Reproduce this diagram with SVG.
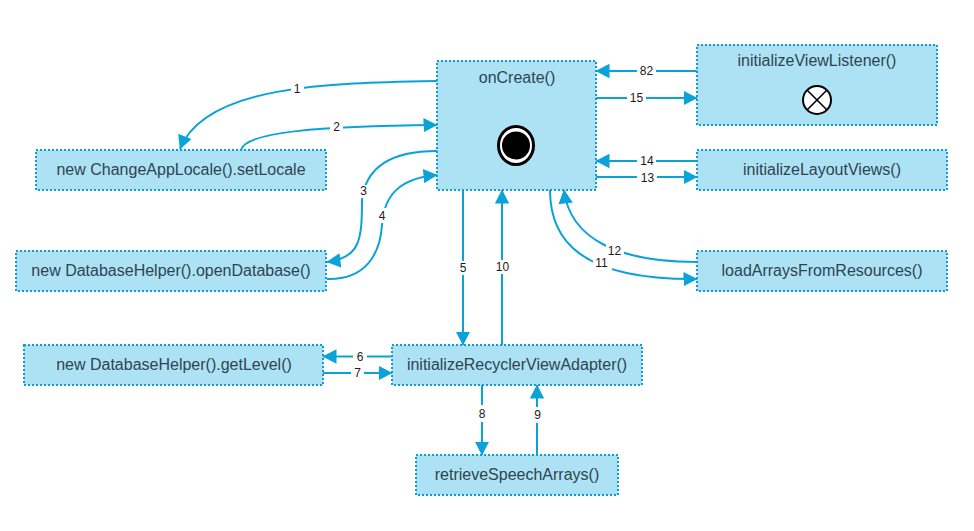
<svg xmlns="http://www.w3.org/2000/svg" width="974" height="531" viewBox="0 0 974 531">
<style>
.n{fill:#ade2f4;stroke:#0a9fd6;stroke-width:2;stroke-dasharray:2 2}
.t{font:16px "Liberation Sans",Arial,sans-serif;fill:#2f4450;text-anchor:middle}
.c{fill:none;stroke:#0aa3d9;stroke-width:2}
.a{marker-end:url(#arr)}
.lb{fill:#fff}
.l{font:12px "Liberation Sans",Arial,sans-serif;fill:#1a1a1a;text-anchor:middle}
</style>
<defs><marker id="arr" markerUnits="userSpaceOnUse" markerWidth="16" markerHeight="16" refX="13.500" refY="8" orient="auto"><path d="M0 0.800L14 8L0 15.200Z" fill="#0aa3d9"/></marker></defs>
<rect width="974" height="531" fill="#fff"/>
<g id="connectors">
<path class="c a" d="M437 81C330 83 205 85 180 149"/>
<path class="c a" d="M241 150C245 132 320 126 437 125"/>
<path class="c a" d="M437 151C395 151 366 165 362 200C362 240 360 258 327 262"/>
<path class="c a" d="M327 279C365 280 380 255 382 225C384 195 400 178 437 175"/>
<path class="c a" d="M463 190V345"/>
<path class="c a" d="M502 345V190"/>
<path class="c a" d="M392 356.500H323"/>
<path class="c a" d="M323 373H392"/>
<path class="c a" d="M482 385V455"/>
<path class="c a" d="M537 455V385"/>
<path class="c a" d="M550 190C550 240 580 280 697 279"/>
<path class="c a" d="M697 262C620 262 570 240 564 190"/>
<path class="c a" d="M697 71H596"/>
<path class="c a" d="M596 98H697"/>
<path class="c a" d="M697 161H596"/>
<path class="c a" d="M596 177H697"/>
<g>
<rect class="lb" x="291" y="82" width="13" height="14"/><text class="l" x="297" y="93">1</text>
<rect class="lb" x="330" y="120" width="13" height="14"/><text class="l" x="336.500" y="131">2</text>
<rect class="lb" x="357" y="185" width="13" height="13"/><text class="l" x="363.500" y="195">3</text>
<rect class="lb" x="376" y="208" width="12" height="15"/><text class="l" x="382" y="220">4</text>
<rect class="lb" x="457" y="261" width="12" height="14"/><text class="l" x="463" y="272">5</text>
<rect class="lb" x="494" y="260" width="17" height="14"/><text class="l" x="502.500" y="271">10</text>
<rect class="lb" x="353" y="349" width="14" height="14"/><text class="l" x="360" y="360.500">6</text>
<rect class="lb" x="351" y="366" width="13" height="14"/><text class="l" x="357.500" y="377">7</text>
<rect class="lb" x="476" y="405" width="12" height="17"/><text class="l" x="482" y="418">8</text>
<rect class="lb" x="531" y="407" width="12" height="16"/><text class="l" x="537.500" y="419">9</text>
<rect class="lb" x="593" y="256" width="19" height="14"/><text class="l" x="601.500" y="267">11</text>
<rect class="lb" x="606" y="244" width="18" height="14"/><text class="l" x="614.500" y="255">12</text>
<rect class="lb" x="637" y="64" width="19" height="14"/><text class="l" x="646.500" y="75">82</text>
<rect class="lb" x="627" y="91" width="19" height="14"/><text class="l" x="636.500" y="102">15</text>
<rect class="lb" x="637" y="154" width="19" height="14"/><text class="l" x="647" y="165">14</text>
<rect class="lb" x="637" y="171" width="20" height="14"/><text class="l" x="647.500" y="182">13</text>
</g>
</g>
<g id="onCreate"><rect class="n" x="437" y="61" width="159" height="129"/><text class="t" x="517" y="83">onCreate()</text>
<ellipse cx="516" cy="145.500" rx="17.500" ry="19" fill="#fff" stroke="#000" stroke-width="3"/><circle cx="516" cy="145.500" r="14" fill="#000"/></g>
<g id="initializeViewListener"><rect class="n" x="697" y="45" width="240" height="80"/><text class="t" x="817" y="66">initializeViewListener()</text>
<circle cx="817" cy="100" r="14" fill="#fff" stroke="#000" stroke-width="2"/><path d="M807 90L827 110M827 90L807 110" stroke="#000" stroke-width="1.600"/></g>
<g id="initializeLayoutViews"><rect class="n" x="697" y="150" width="250" height="40"/><text class="t" x="822" y="175">initializeLayoutViews()</text></g>
<g id="loadArraysFromResources"><rect class="n" x="697" y="251" width="250" height="40"/><text class="t" x="822" y="276">loadArraysFromResources()</text></g>
<g id="setLocale"><rect class="n" x="36" y="150" width="290" height="40"/><text class="t" x="181" y="175">new ChangeAppLocale().setLocale</text></g>
<g id="openDatabase"><rect class="n" x="16" y="251" width="310" height="40"/><text class="t" x="171" y="276">new DatabaseHelper().openDatabase()</text></g>
<g id="getLevel"><rect class="n" x="24" y="345" width="299" height="40"/><text class="t" x="174" y="370">new DatabaseHelper().getLevel()</text></g>
<g id="initializeRecyclerViewAdapter"><rect class="n" x="392" y="345" width="250" height="40"/><text class="t" x="517" y="370">initializeRecyclerViewAdapter()</text></g>
<g id="retrieveSpeechArrays"><rect class="n" x="416" y="455" width="202" height="40"/><text class="t" x="517" y="480">retrieveSpeechArrays()</text></g>
</svg>
